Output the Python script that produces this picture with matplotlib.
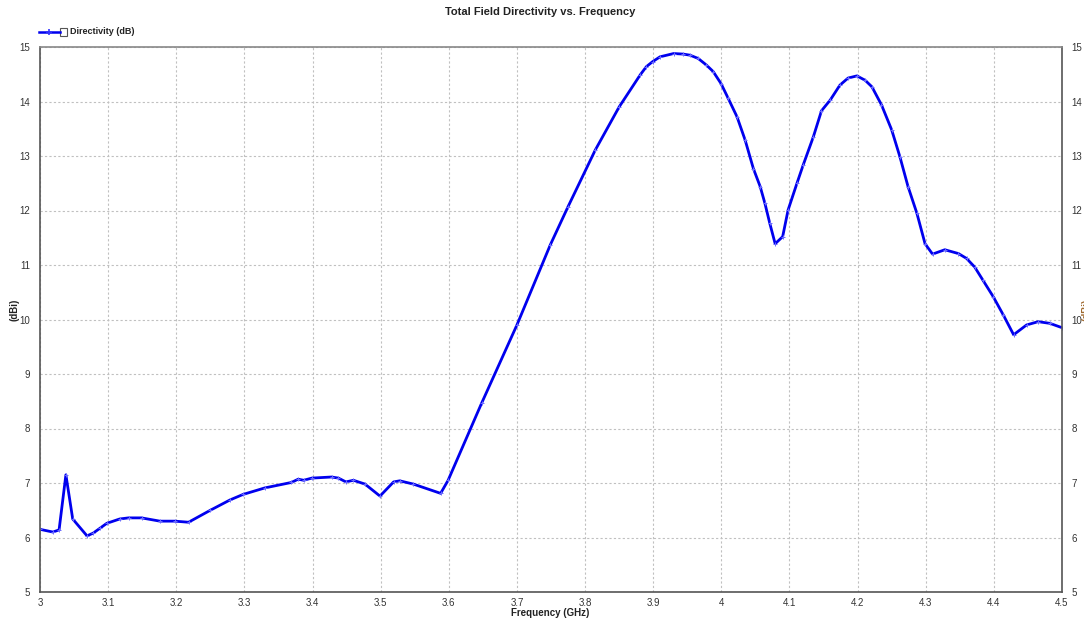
import matplotlib
matplotlib.use("Agg")
import matplotlib.pyplot as plt
from matplotlib.lines import Line2D
from matplotlib.patches import Rectangle

plt.rcParams['font.family'] = ['Liberation Sans', 'DejaVu Sans']

freq_ghz = [3.000, 3.019, 3.028, 3.038, 3.048, 3.069, 3.078, 3.088, 3.098, 3.117,
            3.130, 3.149, 3.176, 3.198, 3.218, 3.250, 3.279, 3.298, 3.330, 3.369,
            3.379, 3.387, 3.399, 3.428, 3.438, 3.449, 3.460, 3.477, 3.499, 3.519,
            3.528, 3.548, 3.588, 3.599, 3.648, 3.700, 3.749, 3.775, 3.815, 3.850,
            3.881, 3.890, 3.899, 3.910, 3.930, 3.944, 3.954, 3.966, 3.978, 3.988,
            3.9995, 4.010, 4.023, 4.035, 4.047, 4.057, 4.064, 4.071, 4.079, 4.090,
            4.098, 4.111, 4.120, 4.135, 4.147, 4.160, 4.174, 4.186, 4.199, 4.211,
            4.221, 4.235, 4.250, 4.262, 4.274, 4.287, 4.299, 4.310, 4.328, 4.348,
            4.360, 4.372, 4.384, 4.399, 4.414, 4.429, 4.448, 4.465, 4.482, 4.500]
directivity_db = [6.15, 6.10, 6.14, 7.15, 6.34, 6.03, 6.08, 6.17, 6.26, 6.34,
                  6.36, 6.36, 6.30, 6.30, 6.28, 6.50, 6.69, 6.79, 6.91, 7.01,
                  7.07, 7.05, 7.09, 7.11, 7.09, 7.02, 7.05, 6.98, 6.76, 7.02,
                  7.04, 6.98, 6.81, 7.05, 8.46, 9.90, 11.37, 12.07, 13.11, 13.90,
                  14.49, 14.64, 14.73, 14.82, 14.88, 14.87, 14.85, 14.79, 14.67, 14.55,
                  14.33, 14.06, 13.72, 13.29, 12.77, 12.44, 12.13, 11.77, 11.39, 11.52,
                  12.01, 12.50, 12.83, 13.35, 13.83, 14.03, 14.30, 14.43, 14.47, 14.39,
                  14.27, 13.94, 13.48, 12.99, 12.44, 11.95, 11.39, 11.20, 11.28, 11.21,
                  11.12, 10.96, 10.72, 10.42, 10.08, 9.72, 9.90, 9.96, 9.93, 9.85]

x_ticks = [3.0, 3.1, 3.2, 3.3, 3.4, 3.5, 3.6, 3.7, 3.8, 3.9, 4.0, 4.1, 4.2, 4.3, 4.4, 4.5]
x_tick_labels = ['3', '3.1', '3.2', '3.3', '3.4', '3.5', '3.6', '3.7', '3.8', '3.9',
                 '4', '4.1', '4.2', '4.3', '4.4', '4.5']
y_ticks = [5, 6, 7, 8, 9, 10, 11, 12, 13, 14, 15]

W, H = 1084, 620
fig = plt.figure(figsize=(W / 100, H / 100), dpi=100)
ax = fig.add_axes([40 / W, 1 - 592 / H, (1062 - 40) / W, (592 - 47) / H])

ax.plot(freq_ghz, directivity_db, color='#0000ee', lw=2.0, marker='+', ms=3,
        mec='#6a6aff', mew=0.7, solid_joinstyle='round', solid_capstyle='round')

ax.set_xlim(3.0, 4.5)
ax.set_ylim(5, 15)
ax.set_xticks(x_ticks)
ax.set_xticklabels(x_tick_labels)
ax.set_yticks(y_ticks)
ax.grid(True, color='#c0c0c0', linestyle=(0, (2, 2)), linewidth=0.8)
ax.tick_params(length=0, labelsize=7, colors='#333333', labelright=True)
ax.tick_params(axis='y', pad=7)
ax.tick_params(axis='x', pad=4)
for s in ax.spines.values():
    s.set_color('#555555')
    s.set_linewidth(1.2)
ax.spines['top'].set_color('#888888')

fig.text(540 / W, 1 - 12 / H, 'Total Field Directivity vs. Frequency', ha='center',
         va='center', fontsize=8, fontweight='bold', color='#222222')
fig.text(550 / W, 1 - 613 / H, 'Frequency (GHz)', ha='center', va='center',
         fontsize=7, fontweight='bold', color='#222222')
fig.text(14 / W, 1 - 310 / H, '(dBi)', ha='center', va='center', rotation=90,
         fontsize=7, fontweight='bold', color='#222222')
fig.text(1082 / W, 1 - 310 / H, '(dBi)', ha='left', va='center', rotation=90,
         fontsize=7, fontweight='bold', color='#a06a30')

# legend
ly = 1 - 32 / H
fig.add_artist(Line2D([39 / W, 60 / W], [ly, ly], transform=fig.transFigure,
                      color='#0000ee', lw=1.8))
fig.add_artist(Line2D([49 / W], [ly], transform=fig.transFigure, color='#3333ff',
                      marker='+', ms=4, mew=1.2))
fig.add_artist(Rectangle((60 / W, 1 - 36 / H), 7 / W, 8 / H, transform=fig.transFigure,
                         fill=False, edgecolor='#555555', lw=0.8))
fig.text(70 / W, ly, 'Directivity (dB)', ha='left', va='center', fontsize=6.5,
         fontweight='bold', color='#222222')

fig.savefig('out.png', dpi=100)
